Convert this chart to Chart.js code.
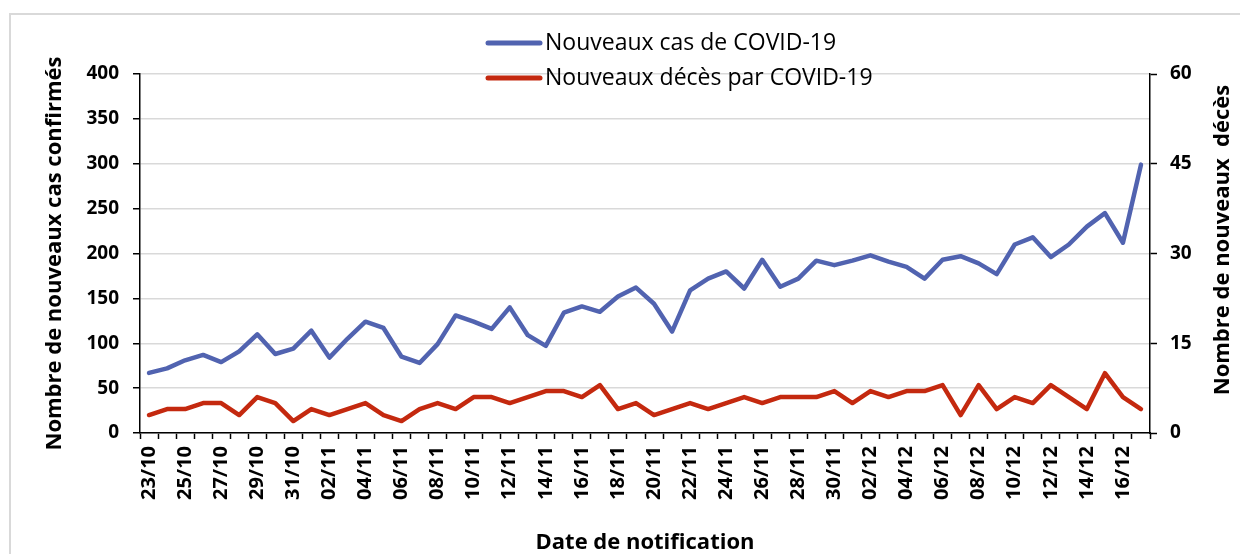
<!DOCTYPE html>
<html>
<head>
<meta charset="utf-8">
<script src="https://cdn.jsdelivr.net/npm/chart.js@4.4.1/dist/chart.umd.min.js"></script>
<style>
  html, body { margin: 0; padding: 0; background: #fff; overflow: hidden; }
  #frame { position: absolute; left: 9px; top: 13px; width: 1260px; height: 600px; border: 2px solid #d9d9d9; }
  #wrap { position: absolute; left: 0; top: 0; width: 1240px; height: 554px; }
</style>
</head>
<body>
<div id="frame"></div>
<div id="wrap"><canvas id="chart" width="1240" height="554"></canvas></div>
<script>
const dates = [
  '23/10','24/10','25/10','26/10','27/10','28/10','29/10','30/10','31/10',
  '01/11','02/11','03/11','04/11','05/11','06/11','07/11','08/11','09/11','10/11',
  '11/11','12/11','13/11','14/11','15/11','16/11','17/11','18/11','19/11','20/11',
  '21/11','22/11','23/11','24/11','25/11','26/11','27/11','28/11','29/11','30/11',
  '01/12','02/12','03/12','04/12','05/12','06/12','07/12','08/12','09/12','10/12',
  '11/12','12/12','13/12','14/12','15/12','16/12','17/12'
];
const newCases = [
  67, 72, 81, 87, 79, 91, 110, 88, 94,
  114, 84, 105, 124, 117, 85, 78, 99, 131, 124,
  116, 140, 109, 97, 134, 141, 135, 152, 162, 144,
  113, 159, 172, 180, 161, 193, 163, 172, 192, 187,
  192, 198, 191, 185, 172, 193, 197, 189, 177, 210,
  218, 196, 210, 230, 245, 212, 299
];
const newDeaths = [
  3, 4, 4, 5, 5, 3, 6, 5, 2,
  4, 3, 4, 5, 3, 2, 4, 5, 4, 6,
  6, 5, 6, 7, 7, 6, 8, 4, 5, 3,
  4, 5, 4, 5, 6, 5, 6, 6, 6, 7,
  5, 7, 6, 7, 7, 8, 3, 8, 4, 6,
  5, 8, 6, 4, 10, 6, 4
];
const seriesNames = ['Nouveaux cas de COVID-19', 'Nouveaux décès par COVID-19'];
const leftTitle = 'Nombre de nouveaux cas confirmés';
const rightTitle = 'Nombre de nouveaux  décès';
const xTitle = 'Date de notification';

const FONT = '"Open Sans", sans-serif';
const BLUE = '#5163b0';
const RED = '#c4290f';

// legend + right axis title drawn by hand (Excel-style placement)
const extras = {
  id: 'extras',
  afterDraw(chart) {
    const ctx = chart.ctx;
    ctx.save();
    chart.data.datasets.forEach((ds, i) => {
      const y = 43 + i * 35;
      ctx.strokeStyle = ds.borderColor;
      ctx.lineWidth = 5;
      ctx.lineCap = 'round';
      ctx.beginPath();
      ctx.moveTo(488, y);
      ctx.lineTo(540, y);
      ctx.stroke();
      ctx.fillStyle = '#000';
      ctx.font = '23px ' + FONT;
      ctx.textBaseline = 'middle';
      ctx.textAlign = 'left';
      ctx.fillText(ds.label, 545, y);
    });
    ctx.translate(1223, 240);
    ctx.rotate(-Math.PI / 2);
    ctx.font = 'bold 22px ' + FONT;
    ctx.textAlign = 'center';
    ctx.textBaseline = 'middle';
    ctx.fillText(rightTitle, 0, 0);
    ctx.restore();
  }
};

new Chart(document.getElementById('chart'), {
  type: 'line',
  data: {
    labels: dates,
    datasets: [
      {
        label: seriesNames[0],
        data: newCases,
        borderColor: BLUE,
        backgroundColor: BLUE,
        borderWidth: 4.5,
        pointRadius: 0,
        tension: 0,
        borderCapStyle: 'round',
        borderJoinStyle: 'round',
        yAxisID: 'y'
      },
      {
        label: seriesNames[1],
        data: newDeaths,
        borderColor: RED,
        backgroundColor: RED,
        borderWidth: 4.5,
        pointRadius: 0,
        tension: 0,
        borderCapStyle: 'round',
        borderJoinStyle: 'round',
        yAxisID: 'y1'
      }
    ]
  },
  options: {
    responsive: false,
    animation: false,
    devicePixelRatio: 1,
    layout: { padding: { top: 74, left: 0, right: 0, bottom: 0 } },
    plugins: {
      legend: { display: false },
      tooltip: { enabled: false }
    },
    scales: {
      x: {
        offset: true,
        grid: {
          offset: true,
          drawOnChartArea: false,
          tickLength: 6,
          tickColor: '#000',
          tickWidth: 1.5
        },
        border: { color: '#000', width: 1.5 },
        ticks: {
          autoSkip: false,
          maxRotation: 90,
          minRotation: 90,
          padding: 7,
          color: '#000',
          font: { family: FONT, size: 20, weight: 'bold' },
          callback: (v, i) => (i % 2 === 0 ? dates[i] : '')
        },
        title: {
          display: true,
          text: xTitle,
          color: '#000',
          font: { family: FONT, size: 22, weight: 'bold', lineHeight: 1.0 },
          padding: 0
        },
        afterFit: (s) => { s.height = 554 - 433; }
      },
      y: {
        position: 'left',
        min: 0,
        max: 400,
        ticks: {
          stepSize: 50,
          padding: 14,
          color: '#000',
          font: { family: FONT, size: 19, weight: 'bold' }
        },
        grid: {
          color: '#d9d9d9',
          lineWidth: 1.5,
          tickLength: 7,
          tickColor: '#000',
          tickWidth: 1.5
        },
        border: { color: '#000', width: 1.5 },
        title: {
          display: true,
          text: leftTitle,
          color: '#000',
          font: { family: FONT, size: 22, weight: 'bold' },
          padding: { top: 42, bottom: 0 }
        },
        afterFit: (s) => { s.width = 140; }
      },
      y1: {
        position: 'right',
        min: 0,
        max: 60,
        ticks: {
          stepSize: 15,
          padding: 13,
          color: '#000',
          font: { family: FONT, size: 19, weight: 'bold' }
        },
        grid: {
          drawOnChartArea: false,
          tickLength: 7,
          tickColor: '#000',
          tickWidth: 1.5
        },
        border: { color: '#000', width: 1.5 },
        afterFit: (s) => { s.width = 90; }
      }
    }
  },
  plugins: [extras]
});
</script>
</body>
</html>
